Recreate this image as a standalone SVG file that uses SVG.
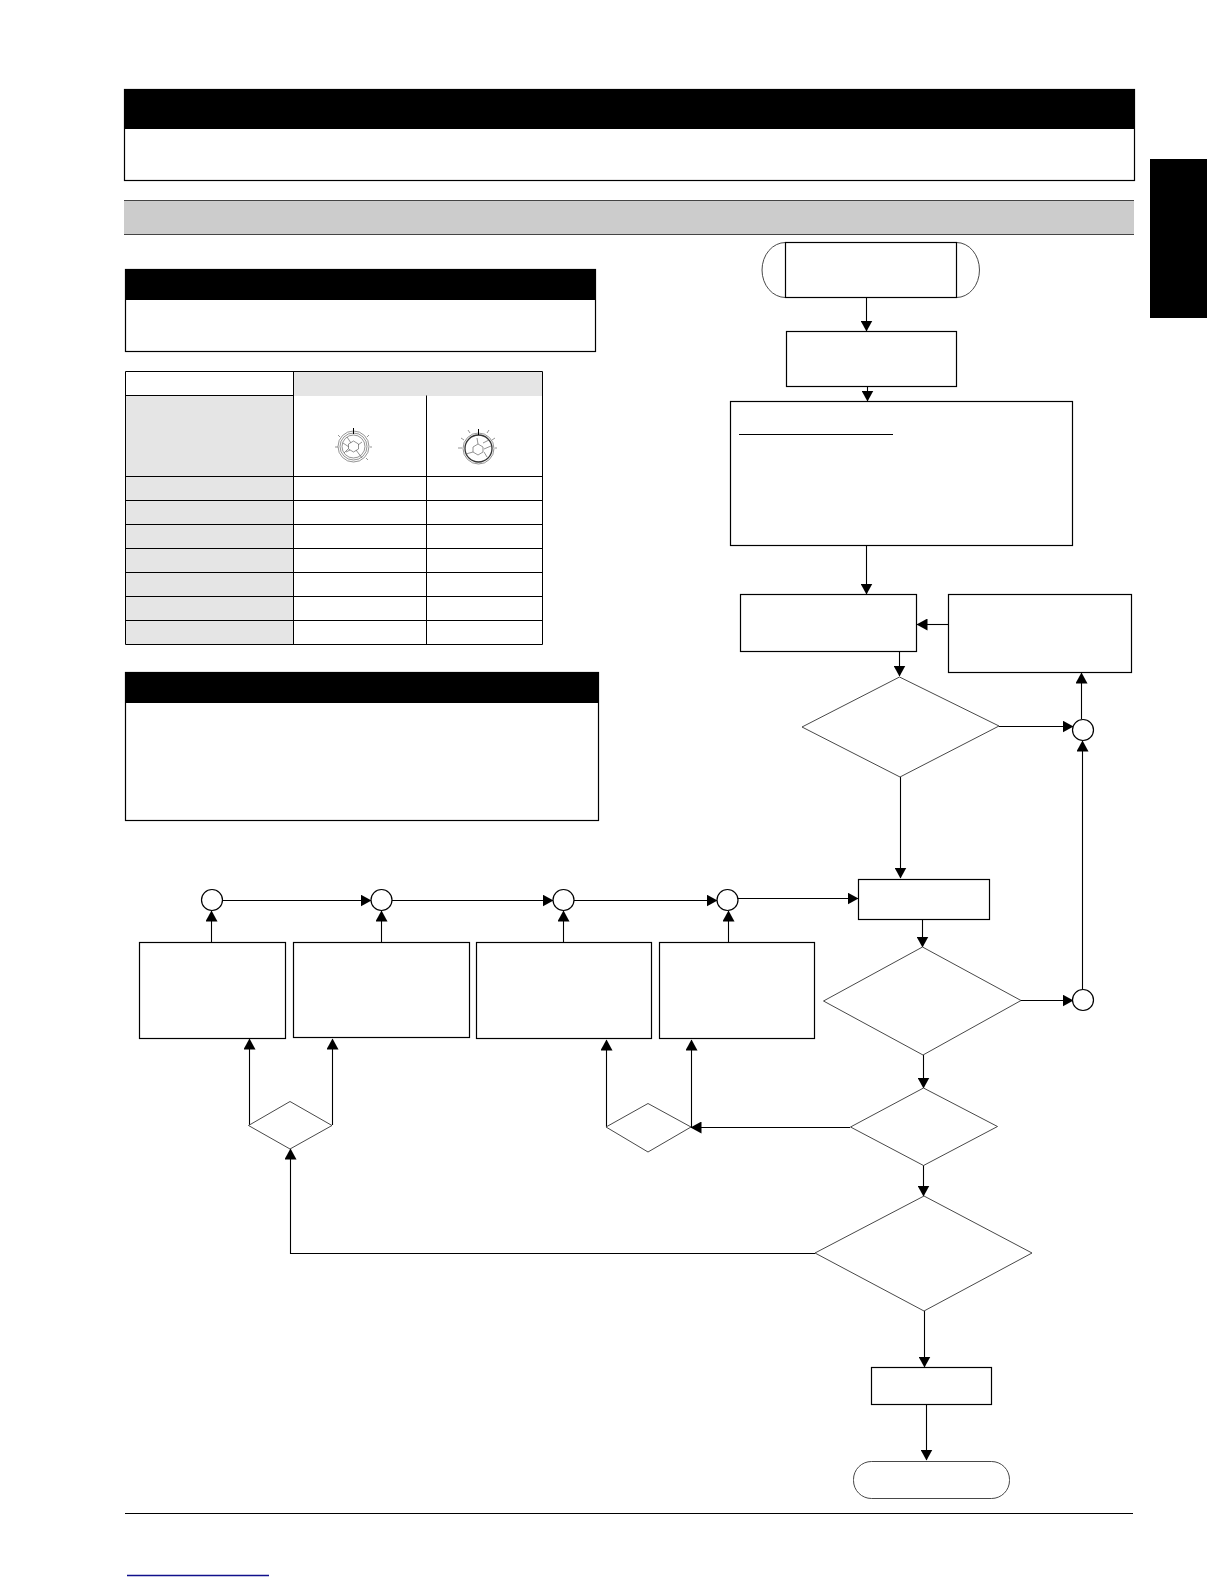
<svg xmlns="http://www.w3.org/2000/svg" width="1224" height="1584" viewBox="0 0 1224 1584">
<style>
.n{fill:#fff;stroke:#000;stroke-width:1.2}
.d{fill:#fff;stroke:#333;stroke-width:.9}
.c{fill:none;stroke:#000;stroke-width:1.1}
.t{fill:none;stroke:#000;stroke-width:1}
.k{fill:#000}
.g{fill:#e5e5e5}
.a{fill:none;stroke:#666;stroke-width:.7}
.a2{fill:none;stroke:#333;stroke-width:1.3}
</style>
<defs>
<marker id="ah" markerUnits="userSpaceOnUse" markerWidth="12" markerHeight="12" refX="10.500" refY="6" orient="auto"><path d="M0 0L11 6L0 12Z" fill="#000"/></marker>
</defs>
<rect width="1224" height="1584" fill="#fff"/>
<g id="page-header">
<rect class="n" x="124.5" y="89.5" width="1010" height="91"/>
<rect class="k" x="124" y="89" width="1011" height="40"/>
</g>
<rect id="side-tab" class="k" x="1150" y="159" width="57" height="159"/>
<g id="section-bar">
<rect x="124" y="200" width="1010" height="34" fill="#ccc"/>
<path d="M124 234.500H1134M124 200.500H1134" stroke="#444" stroke-width="1"/>
</g>
<g id="note-box-1">
<rect class="n" x="125.500" y="269.500" width="470" height="82"/>
<rect class="k" x="125" y="269" width="471" height="31"/>
</g>
<g id="note-box-2">
<rect class="n" x="125.500" y="672.500" width="473" height="148"/>
<rect class="k" x="125" y="672" width="474" height="31"/>
</g>
<g id="table">
<rect class="g" x="294" y="372" width="248" height="24"/>
<rect class="g" x="126" y="396" width="167" height="248"/>
<path class="t" d="M125.500 371.500H542.500V644.500H125.500ZM125.500 395.500H293M293.500 371.500V644.500M426.500 395.500V644.500M125.500 476.500H542.500M125.500 500.500H542.500M125.500 524.500H542.500M125.500 548.500H542.500M125.500 572.500H542.500M125.500 596.500H542.500M125.500 620.500H542.500"/>
<g id="dial-1">
<circle class="a" cx="353.500" cy="446.500" r="15.500"/>
<circle class="a" cx="353.500" cy="446.500" r="13.500"/>
<circle class="a" cx="353.500" cy="446.500" r="11.500"/>
<path class="a" d="M353.500 441L358.500 444V449L353.500 452L348.500 449V444ZM347 437L351 443M343 443L349 447M362 442L358 445M362 458L356 450M346 452L350 450M348 449L344 453M338 447H335M340 437L338 435M367 437L369 435M370 447H372M366 458L368 460"/>
<path d="M353.500 428V434" stroke="#000" stroke-width="1"/>
</g>
<g id="dial-2">
<circle class="a2" cx="478.500" cy="448.500" r="13.500"/>
<circle class="a" cx="478.500" cy="448.500" r="15.500"/>
<path class="a" d="M478 444L483 447V452L478 455L473 452V447ZM483 443L489 440M484 449L491 446M473 452L466 454M478 444L477 438M464 440L461 438M492 440L495 438M462 448H458M495 448H497M470 433L468 430M487 433L489 430M484 452L487 457"/>
<path d="M478.500 429V435" stroke="#000" stroke-width="1"/>
</g>
</g>
<g id="connectors">
<path class="c" marker-end="url(#ah)" d="M866.500 297V331"/>
<path class="c" marker-end="url(#ah)" d="M867.500 386V401"/>
<path class="c" marker-end="url(#ah)" d="M866.500 543V594"/>
<path class="c" marker-end="url(#ah)" d="M948 624.500H917"/>
<path class="c" marker-end="url(#ah)" d="M899.500 651V676"/>
<path class="c" marker-end="url(#ah)" d="M999 726.500H1073"/>
<path class="c" marker-end="url(#ah)" d="M1081.500 719V673"/>
<path class="c" marker-end="url(#ah)" d="M900.500 777V878"/>
<path class="c" marker-end="url(#ah)" d="M922.500 919V947"/>
<path class="c" marker-end="url(#ah)" d="M1021 1000.500H1073"/>
<path class="c" marker-end="url(#ah)" d="M1082.500 989V741"/>
<path class="c" marker-end="url(#ah)" d="M923.500 1055V1088"/>
<path class="c" marker-end="url(#ah)" d="M850 1127.500H691"/>
<path class="c" marker-end="url(#ah)" d="M923.500 1165V1196"/>
<path class="c" marker-end="url(#ah)" d="M815 1253.500H290.500V1149"/>
<path class="c" marker-end="url(#ah)" d="M924.500 1311V1367"/>
<path class="c" marker-end="url(#ah)" d="M926.500 1404V1460"/>
<path class="c" marker-end="url(#ah)" d="M606.500 1127V1040"/>
<path class="c" marker-end="url(#ah)" d="M691.500 1127V1040"/>
<path class="c" marker-end="url(#ah)" d="M249.500 1125V1039"/>
<path class="c" marker-end="url(#ah)" d="M332.500 1125V1039"/>
<path class="c" marker-end="url(#ah)" d="M211.500 942V911"/>
<path class="c" marker-end="url(#ah)" d="M381.500 942V911"/>
<path class="c" marker-end="url(#ah)" d="M563.500 942V911"/>
<path class="c" marker-end="url(#ah)" d="M728.500 942V911"/>
<path class="c" marker-end="url(#ah)" d="M222 900.500H371"/>
<path class="c" marker-end="url(#ah)" d="M392 900.500H553"/>
<path class="c" marker-end="url(#ah)" d="M574 900.500H717"/>
<path class="c" marker-end="url(#ah)" d="M738 898.500H858"/>
</g>
<g id="start">
<path class="d" d="M785.500 242.500A23.500 27.500 0 0 0 785.500 297.500H956.500A23 27.500 0 0 0 956.500 242.500Z"/>
<rect class="n" x="785.500" y="242.500" width="171" height="55"/>
</g>
<rect id="step-1" class="n" x="786.500" y="331.500" width="170" height="55"/>
<g id="step-2">
<rect class="n" x="730.500" y="401.500" width="342" height="144"/>
<path d="M739 434.500H893" stroke="#000" stroke-width="1"/>
</g>
<rect id="step-3" class="n" x="740.500" y="594.500" width="176" height="57"/>
<rect id="step-4" class="n" x="948.500" y="594.500" width="183" height="78"/>
<polygon id="decision-1" class="d" points="899.500,677 999,726 900,777 802,727"/>
<circle id="junction-a" class="n" cx="1083" cy="730" r="10.500"/>
<rect id="step-5" class="n" x="858.500" y="879.500" width="131" height="40"/>
<polygon id="decision-2" class="d" points="922.500,947 1021,1000.500 923,1055 823.500,1001"/>
<circle id="junction-b" class="n" cx="1083" cy="1000" r="10.500"/>
<polygon id="decision-3" class="d" points="923.500,1088 997.500,1126.500 923.500,1165.500 850.500,1127"/>
<polygon id="decision-4" class="d" points="924,1196 1032,1253 924,1311 815,1253"/>
<polygon id="decision-5" class="d" points="648,1103.500 691,1127 648,1152 606,1127"/>
<polygon id="decision-6" class="d" points="290,1101.500 332,1125.500 290,1149 248.500,1125.500"/>
<rect id="step-a" class="n" x="139.500" y="942.500" width="146" height="96"/>
<rect id="step-b" class="n" x="293.500" y="942.500" width="176" height="95"/>
<rect id="step-c" class="n" x="476.500" y="942.500" width="175" height="96"/>
<rect id="step-d" class="n" x="659.500" y="942.500" width="155" height="96"/>
<circle id="junction-1" class="n" cx="212" cy="900" r="10.500"/>
<circle id="junction-2" class="n" cx="381.500" cy="900" r="10.500"/>
<circle id="junction-3" class="n" cx="563.500" cy="900" r="10.500"/>
<circle id="junction-4" class="n" cx="727.500" cy="900" r="10.500"/>
<rect id="step-end" class="n" x="871.500" y="1367.500" width="120" height="37"/>
<rect id="end" class="d" x="853.500" y="1461.500" width="156" height="37" rx="18" ry="18"/>
<path id="footer-rule" d="M125 1513.500H1133" stroke="#000" stroke-width="1"/>
<path id="footer-link" d="M127 1575.500H269" stroke="#10108c" stroke-width="1.300"/>
</svg>
